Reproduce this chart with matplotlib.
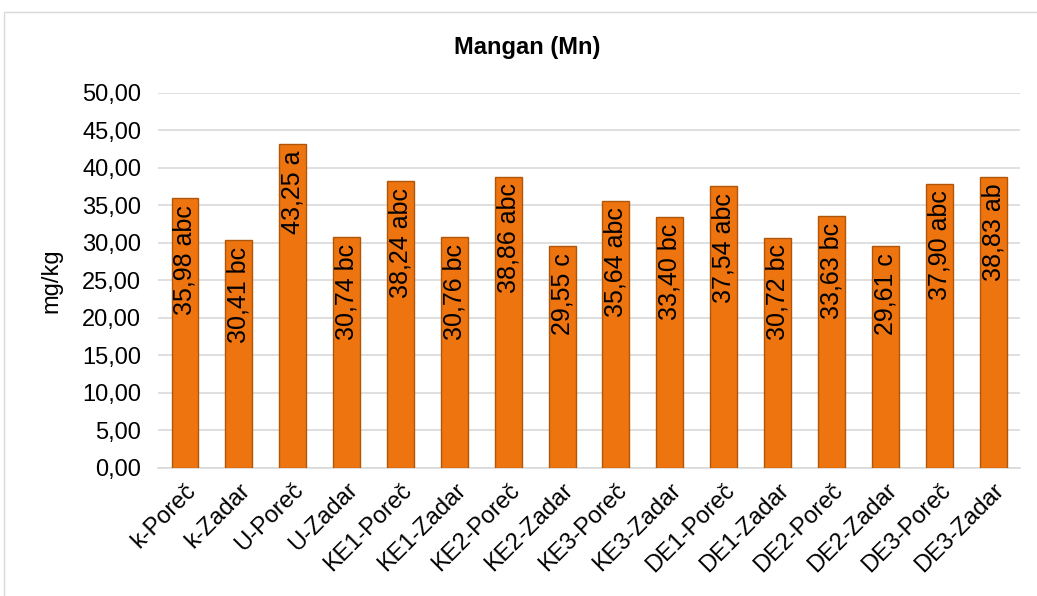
import numpy as np
import matplotlib.pyplot as plt
from matplotlib.ticker import FuncFormatter, MultipleLocator
from matplotlib.patches import Rectangle

plt.rcParams['font.family'] = ['Liberation Sans', 'DejaVu Sans']

categories = ['k-Poreč', 'k-Zadar', 'U-Poreč', 'U-Zadar', 'KE1-Poreč', 'KE1-Zadar',
              'KE2-Poreč', 'KE2-Zadar', 'KE3-Poreč', 'KE3-Zadar', 'DE1-Poreč',
              'DE1-Zadar', 'DE2-Poreč', 'DE2-Zadar', 'DE3-Poreč', 'DE3-Zadar']
values = [35.98, 30.41, 43.25, 30.74, 38.24, 30.76, 38.86, 29.55, 35.64, 33.40,
          37.54, 30.72, 33.63, 29.61, 37.90, 38.83]
letters = ['abc', 'bc', 'a', 'bc', 'abc', 'bc', 'abc', 'c', 'abc', 'bc',
           'abc', 'bc', 'bc', 'c', 'abc', 'ab']

fig = plt.figure(figsize=(10.37, 5.96), dpi=100)
ax = fig.add_axes([0.1524, 0.2148, 0.8312, 0.6292])

# light grey frame around the whole chart
fig.patches.append(Rectangle((0.004, -0.01), 1.0, 0.99, transform=fig.transFigure,
                             fill=False, edgecolor='#D9D9D9', linewidth=1.0))

x = np.arange(len(categories))
ax.bar(x, values, width=0.5, color='#EE7410', edgecolor='#B0560A', linewidth=1.0, zorder=3)

for xi, v, l in zip(x, values, letters):
    txt = f'{v:.2f}'.replace('.', ',') + ' ' + l
    ax.text(xi, v - 0.9, txt, rotation=90, ha='center', va='top', fontsize=18,
            color='black', zorder=4)

ax.set_xlim(-0.5, len(categories) - 0.5)
ax.set_ylim(0, 50)
ax.yaxis.set_major_locator(MultipleLocator(5))
ax.yaxis.set_major_formatter(FuncFormatter(lambda v, p: f'{v:.2f}'.replace('.', ',')))
ax.grid(axis='y', color='#D9D9D9', linewidth=1.2, zorder=0)
ax.set_axisbelow(True)

for s in ['top', 'right', 'left']:
    ax.spines[s].set_visible(False)
ax.spines['bottom'].set_color('#D9D9D9')
ax.spines['bottom'].set_linewidth(1.2)

ax.set_xticks(x)
ax.set_xticklabels(categories, rotation=45, ha='right', rotation_mode='anchor', fontsize=17)
ax.tick_params(axis='both', length=0, labelsize=17)
ax.tick_params(axis='y', pad=12)
ax.tick_params(axis='x', pad=8)

ax.set_ylabel('mg/kg', fontsize=17, labelpad=14)
fig.text(0.508, 0.921, 'Mangan (Mn)', ha='center', va='center', fontsize=17, fontweight='bold')

fig.savefig('out.png', dpi=100)
